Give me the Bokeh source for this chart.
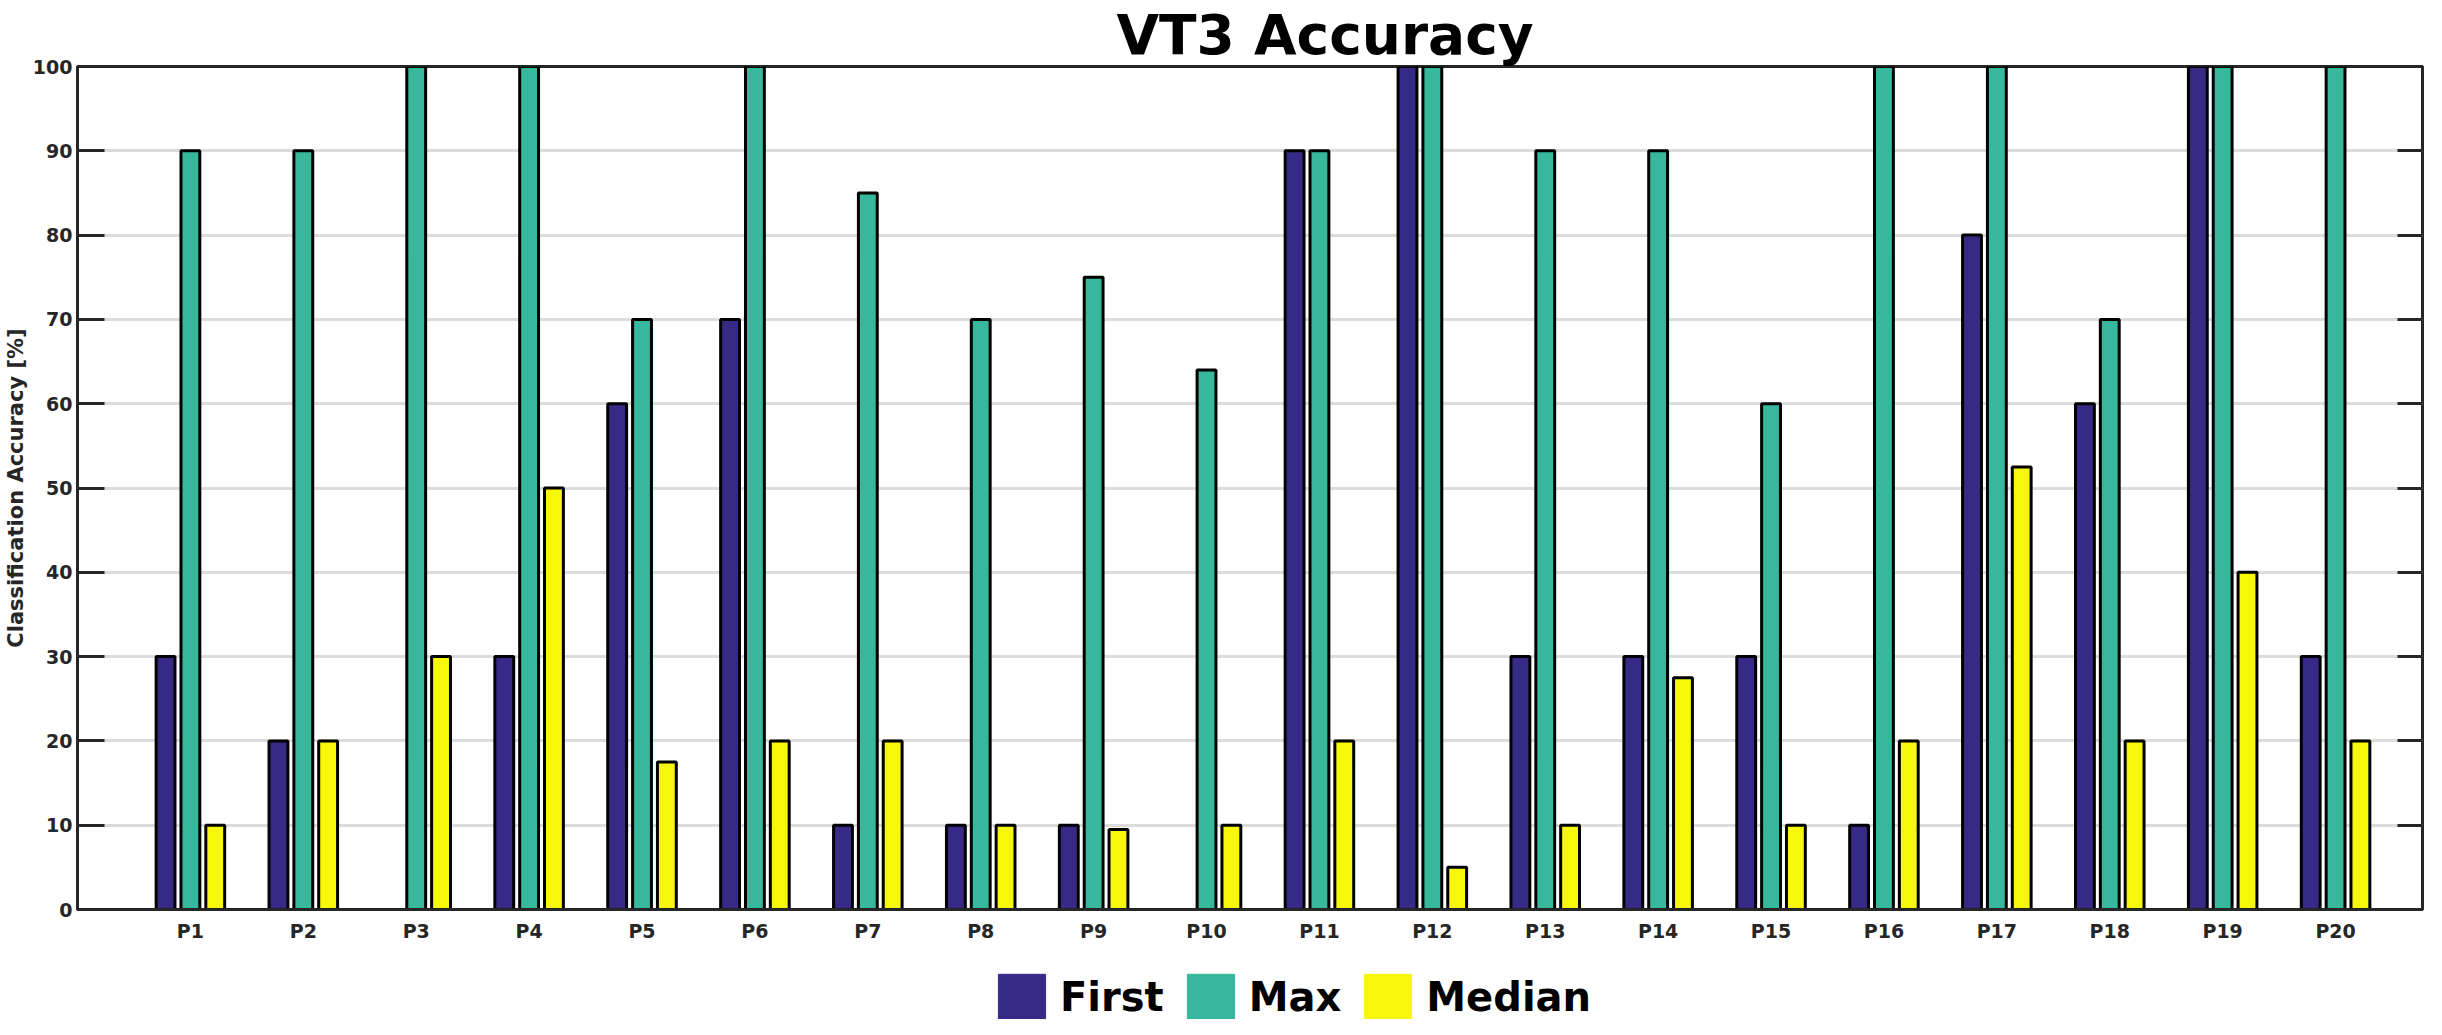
from bokeh.plotting import figure
from bokeh.models import Range1d, FixedTicker, LinearAxis, Legend, LegendItem, ColumnDataSource
from bokeh.layouts import column
from bokeh.transform import dodge
from bokeh.embed import file_html
from bokeh.resources import INLINE

# ---------------- data ----------------
participants = ["P1", "P2", "P3", "P4", "P5", "P6", "P7", "P8", "P9", "P10",
                "P11", "P12", "P13", "P14", "P15", "P16", "P17", "P18", "P19", "P20"]
first = [30, 20, 0, 30, 60, 70, 10, 10, 10, 0, 90, 100, 30, 30, 30, 10, 80, 60, 100, 30]
max_acc = [90, 90, 100, 100, 70, 100, 85, 70, 75, 64, 90, 100, 90, 90, 60, 100, 100, 70, 100, 100]
median = [10, 20, 30, 50, 17.5, 20, 20, 10, 9.5, 10, 20, 5, 10, 27.5, 10, 20, 52.5, 20, 40, 20]
series_names = ["First", "Max", "Median"]
y_ticks = [0, 10, 20, 30, 40, 50, 60, 70, 80, 90, 100]

# ---------------- styles ----------------
series_colors = ["#372a87", "#37b79b", "#f7f70c"]
offsets = [-0.22, 0.0, 0.22]
bar_width = 0.167
axis_color = "#262626"
FONT = "DejaVu Sans"

xs = list(range(1, len(participants) + 1))
source = ColumnDataSource(dict(x=xs, First=first, Max=max_acc, Median=median))

p = figure(width=2426, height=944, output_backend="svg", toolbar_location=None,
           x_range=Range1d(0, len(participants) + 0.77), y_range=Range1d(0, 100),
           min_border_left=0, min_border_right=4, min_border_top=0, min_border_bottom=30,
           background_fill_color="white", border_fill_color="white")

p.title.text = "VT3 Accuracy"
p.title.text_font = FONT
p.title.text_font_style = "bold"
p.title.text_font_size = "55px"
p.title.text_color = "black"
p.title.align = "left"
p.title.offset = 1039
p.title.standoff = 0

for name, col, off in zip(series_names, series_colors, offsets):
    p.vbar(x=dodge("x", off, range=p.x_range), top=name, bottom=0, width=bar_width,
           source=source, fill_color=col, line_color="black", line_width=3)

# y axis (left)
ya = p.yaxis[0]
ya.ticker = FixedTicker(ticks=y_ticks)
ya.major_tick_in = 27
ya.major_tick_out = 0
ya.minor_tick_in = 0
ya.minor_tick_out = 0
ya.major_tick_line_width = 3
ya.major_tick_line_color = axis_color
ya.axis_line_width = 3
ya.axis_line_color = axis_color
ya.major_label_text_font = FONT
ya.major_label_text_font_style = "bold"
ya.major_label_text_font_size = "19px"
ya.major_label_text_color = axis_color
ya.major_label_standoff = 5
ya.axis_label = "Classification Accuracy [%]"
ya.axis_label_text_font = FONT
ya.axis_label_text_font_style = "bold"
ya.axis_label_text_font_size = "21px"
ya.axis_label_text_color = axis_color
ya.axis_label_standoff = 2

# right axis: inward ticks only, no labels
ra = LinearAxis(ticker=FixedTicker(ticks=y_ticks), major_tick_in=25, major_tick_out=0,
                minor_tick_in=0, minor_tick_out=0, major_tick_line_width=3,
                major_tick_line_color=axis_color, axis_line_color=None,
                major_label_overrides={t: "" for t in y_ticks}, major_label_standoff=0)
p.add_layout(ra, "right")

# x axis
xa = p.xaxis[0]
xa.ticker = FixedTicker(ticks=xs)
xa.major_label_overrides = {x: name for x, name in zip(xs, participants)}
xa.major_tick_in = 0
xa.major_tick_out = 0
xa.minor_tick_in = 0
xa.minor_tick_out = 0
xa.axis_line_width = 3
xa.axis_line_color = axis_color
xa.major_label_text_font = FONT
xa.major_label_text_font_style = "bold"
xa.major_label_text_font_size = "19px"
xa.major_label_text_color = axis_color
xa.major_label_standoff = 10

p.xgrid.visible = False
p.ygrid.ticker = FixedTicker(ticks=y_ticks)
p.ygrid.grid_line_color = "#dcdcdc"
p.ygrid.grid_line_width = 3

p.outline_line_color = axis_color
p.outline_line_width = 3
p.outline_line_alpha = 1

# ---------------- legend strip below the chart ----------------
leg_fig = figure(width=2426, height=75, output_backend="svg", toolbar_location=None,
                 x_range=Range1d(0, 1), y_range=Range1d(0, 1),
                 x_axis_location=None, y_axis_location=None,
                 min_border=0, min_border_left=0, min_border_right=0,
                 min_border_top=0, min_border_bottom=0,
                 background_fill_color="white", border_fill_color="white")
leg_fig.outline_line_color = None
leg_fig.grid.visible = False

legend_items = []
for name, col in zip(series_names, series_colors):
    # same series data; only its legend swatch is shown in this strip
    r = leg_fig.vbar(x="x", top=name, width=bar_width, source=source,
                     fill_color=col, line_color=col, line_width=1, visible=False)
    legend_items.append(LegendItem(label=name, renderers=[r]))

legend = Legend(items=legend_items, orientation="horizontal", location=(915, -7),
                glyph_width=59, glyph_height=58, label_standoff=9, spacing=17,
                padding=0, margin=0, border_line_alpha=0, background_fill_alpha=0,
                inactive_fill_alpha=0,
                label_text_font=FONT, label_text_font_style="bold",
                label_text_font_size="40px", label_text_color="black")
leg_fig.add_layout(legend, "center")

layout = column(p, leg_fig, spacing=0)

open("out.html", "w").write(file_html(layout, INLINE))
